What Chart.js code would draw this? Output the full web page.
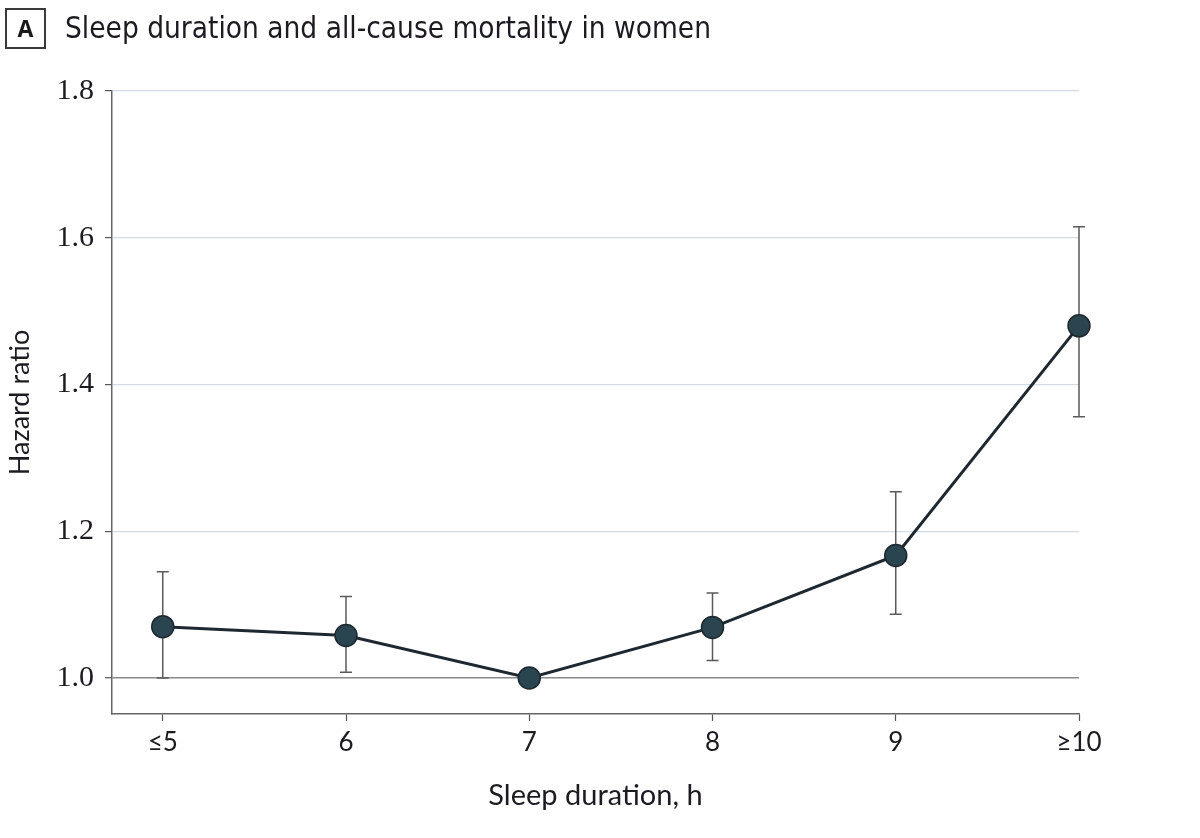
<!DOCTYPE html>
<html>
<head>
<meta charset="utf-8">
<script src="https://cdn.jsdelivr.net/npm/chart.js@4.4.1/dist/chart.umd.min.js"></script>
<style>
  html, body { margin: 0; padding: 0; background: #ffffff; }
  #wrap { position: relative; width: 1200px; height: 838px; }
  #chart { position: absolute; left: 0; top: 0; }
  #box { position: absolute; left: 5px; top: 8px; width: 37px; height: 37px; border: 2px solid #3a3a3a;
         font: bold 23px "Open Sans", sans-serif; color: #1a1a1a; text-align: center; line-height: 37px; }
  #title { position: absolute; left: 65px; top: 8px; font: 29.5px "Liberation Sans Narrow", "DejaVu Sans Condensed", sans-serif;
           color: #1e1a22; white-space: nowrap; line-height: 40px; }
</style>
</head>
<body>
<div id="wrap">
  <canvas id="chart" width="1200" height="838"></canvas>
  <div id="box">A</div>
  <div id="title">Sleep duration and all-cause mortality in women</div>
</div>
<script>
const categories = ["\u22645", "6", "7", "8", "9", "\u226510"];
const hazardRatio = [1.07, 1.058, 1.00, 1.069, 1.167, 1.48];
const ciLow  = [1.00, 1.008, null, 1.024, 1.087, 1.356];
const ciHigh = [1.145, 1.111, null, 1.116, 1.254, 1.615];
const yTicks = [1.0, 1.2, 1.4, 1.6, 1.8];

const errorBars = {
  id: 'errorBars',
  beforeDatasetsDraw(chart) {
    const { ctx, scales: { x, y } } = chart;
    ctx.save();
    ctx.strokeStyle = '#5a5a5a';
    ctx.lineWidth = 1.5;
    for (let i = 0; i < categories.length; i++) {
      if (ciLow[i] == null || ciHigh[i] == null) continue;
      const px = x.getPixelForValue(i);
      const yl = y.getPixelForValue(ciLow[i]);
      const yh = y.getPixelForValue(ciHigh[i]);
      ctx.beginPath();
      ctx.moveTo(px, yl); ctx.lineTo(px, yh);
      ctx.moveTo(px - 6, yl); ctx.lineTo(px + 6, yl);
      ctx.moveTo(px - 6, yh); ctx.lineTo(px + 6, yh);
      ctx.stroke();
    }
    ctx.restore();
  }
};

new Chart(document.getElementById('chart'), {
  type: 'line',
  data: {
    datasets: [{
      data: hazardRatio.map((v, i) => ({ x: i, y: v })),
      borderColor: '#1d2830',
      borderWidth: 3,
      backgroundColor: '#2b4550',
      pointBackgroundColor: '#2b4550',
      pointBorderColor: '#1d2830',
      pointBorderWidth: 1.5,
      pointRadius: 11,
      tension: 0,
      fill: false,
      clip: false
    }]
  },
  options: {
    responsive: false,
    animation: false,
    events: [],
    layout: { padding: { top: 91, right: 121, bottom: 0, left: 0 } },
    plugins: { legend: { display: false }, tooltip: { enabled: false } },
    scales: {
      x: {
        type: 'linear',
        min: -0.277,
        max: 5,
        afterBuildTicks(scale) { scale.ticks = categories.map((c, i) => ({ value: i })); },
        afterFit(scale) { scale.height = 124; },
        ticks: {
          callback: (v) => categories[v],
          font: { family: 'Lato', size: 26 },
          color: '#1e1a22',
          padding: 6,
          maxRotation: 0,
          autoSkip: false
        },
        grid: { drawOnChartArea: false, drawTicks: true, tickLength: 7, tickColor: '#555555', tickWidth: 1.2 },
        border: { display: true, color: '#666666', width: 1.5 },
        title: {
          display: true,
          text: 'Sleep duration, h',
          font: { family: 'Lato', size: 29 },
          color: '#1e1a22',
          padding: { top: 0, bottom: 25 }
        }
      },
      y: {
        min: 0.951,
        max: 1.8,
        afterBuildTicks(scale) { scale.ticks = yTicks.map(v => ({ value: v })); },
        afterFit(scale) { scale.width = 112; },
        ticks: {
          callback: (v) => v.toFixed(1),
          font: { family: 'Liberation Serif', size: 30 },
          color: '#1e1a22',
          padding: 11
        },
        grid: {
          color: (c) => (c.tick && Math.abs(c.tick.value - 1) < 1e-6) ? '#8a8a8a' : '#d3dce2',
          lineWidth: (c) => (c.tick && Math.abs(c.tick.value - 1) < 1e-6) ? 1.5 : 1.2,
          drawTicks: true,
          tickLength: 7,
          tickColor: '#555555',
          tickWidth: 1.2
        },
        border: { display: true, color: '#666666', width: 1.5 },
        title: {
          display: true,
          text: 'Hazard ratio',
          font: { family: 'Lato', size: 27 },
          color: '#1e1a22',
          padding: { top: 4, bottom: 0 }
        }
      }
    }
  },
  plugins: [errorBars]
});
</script>
</body>
</html>
